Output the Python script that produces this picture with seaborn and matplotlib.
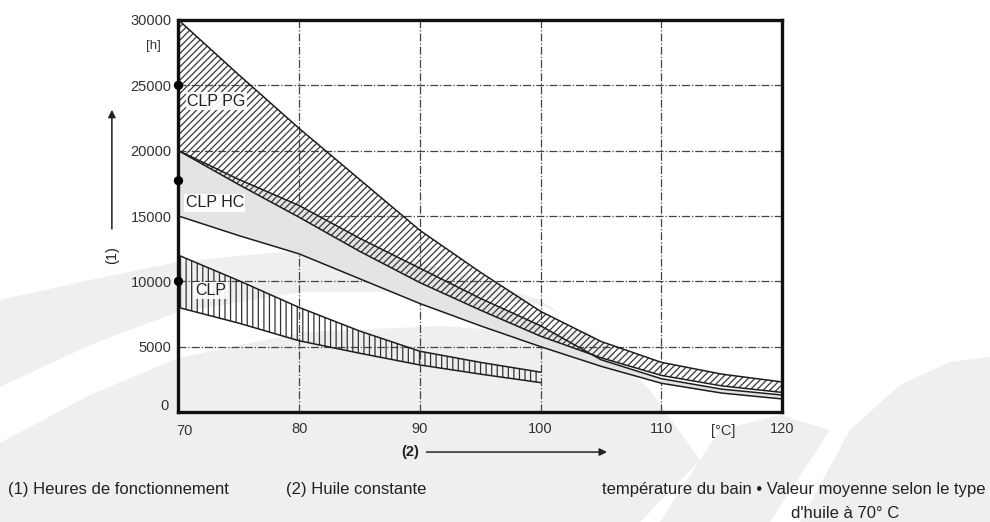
import numpy as np
import pandas as pd
import matplotlib
matplotlib.use("Agg")
import matplotlib.pyplot as plt
from matplotlib.patches import Polygon, FancyArrowPatch
import seaborn as sns

# temperature grid (°C) and the band edges (hours)
temps = [70, 75, 80, 85, 90, 95, 100, 105, 110, 115, 120]
pg_upper = [30000, 25800, 21700, 17800, 13900, 10700, 7700, 5400, 3800, 2900, 2300]
pg_lower = [20000, 17400, 14900, 12300, 9900, 7800, 5800, 4150, 2800, 2000, 1500]
hc_upper = [20000, 17800, 15800, 13300, 11000, 8700, 6600, 4000, 2550, 1750, 1300]
hc_lower = [15000, 13500, 12100, 10200, 8300, 6600, 5000, 3500, 2200, 1450, 1000]

clp_temps = [70, 75, 80, 85, 90, 95, 100]
clp_upper = [12000, 10050, 8000, 6200, 4650, 3800, 3050]
clp_lower = [8000, 6800, 5450, 4500, 3600, 2900, 2250]

# mean value per oil type at 70 °C
dot_temps = [70, 70, 70]
dot_hours = [25000, 17700, 10000]

x_ticks = [70, 80, 90, 100, 110, 120]
y_ticks = [0, 5000, 10000, 15000, 20000, 25000, 30000]

df = pd.DataFrame({"T": temps, "pg_up": pg_upper, "pg_lo": pg_lower,
                   "hc_up": hc_upper, "hc_lo": hc_lower})
clp = pd.DataFrame({"T": clp_temps, "up": clp_upper, "lo": clp_lower})

sns.set_theme(style="white")
plt.rcParams["font.family"] = ["Liberation Sans", "DejaVu Sans"]
plt.rcParams["hatch.linewidth"] = 0.9

fig = plt.figure(figsize=(9.9, 5.22), dpi=100)
fig.patch.set_facecolor("white")

# faint watermark swooshes behind the chart
def px(pts):
    return [(x / 990, 1 - y / 522) for x, y in pts]

wm = "#efefef"
fig.add_artist(Polygon(px([(0, 300), (90, 280), (178, 262), (300, 250), (380, 256), (450, 270),
                           (540, 300), (600, 340), (650, 390), (700, 460), (640, 522), (0, 522)]),
                       closed=True, transform=fig.transFigure, fc=wm, ec="none", zorder=-5))
fig.add_artist(Polygon(px([(0, 387), (90, 345), (178, 312), (303, 292), (442, 292), (540, 305), (600, 330),
                           (540, 333), (442, 326), (303, 332), (178, 358), (90, 395), (0, 443)]),
                       closed=True, transform=fig.transFigure, fc="white", ec="none", zorder=-4))
fig.add_artist(Polygon(px([(700, 460), (720, 430), (780, 415), (830, 430), (770, 522), (660, 522)]),
                       closed=True, transform=fig.transFigure, fc=wm, ec="none", zorder=-5))
fig.add_artist(Polygon(px([(800, 522), (850, 430), (900, 385), (950, 362), (990, 357), (990, 522)]),
                       closed=True, transform=fig.transFigure, fc=wm, ec="none", zorder=-5))

ax = fig.add_axes([0.1803, 0.2107, 0.6097, 0.751])
ax.set_facecolor("none")

# CLP HC grey band, CLP PG hatched band on top, CLP vertical hatch
ax.fill_between(df["T"], df["hc_lo"], df["hc_up"], color="#e4e4e4", lw=0, zorder=1)
ax.fill_between(df["T"], df["pg_lo"], df["pg_up"], facecolor="none", edgecolor="#383838",
                hatch="/////", lw=0, zorder=2)
ax.fill_between(clp["T"], clp["lo"], clp["up"], facecolor="none", edgecolor="#333333",
                hatch="|||", lw=0, zorder=2)

for col in ["pg_up", "pg_lo", "hc_up", "hc_lo"]:
    sns.lineplot(data=df, x="T", y=col, color="#1e1e1e", lw=1.1, ax=ax, zorder=3)
for col in ["up", "lo"]:
    sns.lineplot(data=clp, x="T", y=col, color="#1e1e1e", lw=1.1, ax=ax, zorder=3)

sns.scatterplot(x=dot_temps, y=dot_hours, color="black", s=45, ax=ax, zorder=6, clip_on=False,
                edgecolor="none")

tick_fs = 10.5
ax.set_xlim(70, 120)
ax.set_ylim(0, 30000)
ax.set_xticks(x_ticks)
ax.set_yticks(y_ticks)
ax.set_xticklabels([""] + [str(t) for t in x_ticks[1:]])
ax.set_yticklabels([""] + [str(v) for v in y_ticks[1:]])
ax.tick_params(length=0, labelsize=tick_fs, colors="#333333", pad=5)
ax.tick_params(axis="x", pad=7)
ax.set_xlabel("")
ax.set_ylabel("")
ax.grid(True, color="#444444", linestyle="-.", lw=0.9, zorder=0)
for s in ax.spines.values():
    s.set_visible(True)
    s.set_color("#111111")
    s.set_linewidth(2.4)

# extra labels on the axes
ax.text(69.2, 450, "0", ha="right", va="center", fontsize=tick_fs, color="#333333")
ax.text(70.5, -900, "70", ha="center", va="top", fontsize=tick_fs, color="#333333")
ax.text(115.1, -900, "[°C]", ha="center", va="top", fontsize=tick_fs, color="#333333")
ax.text(68.5, 28000, "[h]", ha="right", va="center", fontsize=9.5, color="#333333")

box = dict(facecolor="white", edgecolor="none", pad=1.0, alpha=0.9)
ax.text(70.7, 23800, "CLP PG", fontsize=11.5, color="#222222", va="center", bbox=box, zorder=5)
ax.text(70.6, 16000, "CLP HC", fontsize=11.5, color="#222222", va="center", bbox=box, zorder=5)
ax.text(71.4, 9300, "CLP", fontsize=11.5, color="#222222", va="center", bbox=box, zorder=5)

# axis arrows and legends
arrow = dict(arrowstyle="-|>", color="#222222", lw=1.1, mutation_scale=11)
fig.add_artist(FancyArrowPatch((0.113, 0.556), (0.113, 0.795), transform=fig.transFigure, **arrow))
fig.text(0.113, 0.511, "(1)", rotation=90, ha="center", va="center", fontsize=10.5, color="#222222")
fig.add_artist(FancyArrowPatch((0.428, 0.134), (0.616, 0.134), transform=fig.transFigure, **arrow))
fig.text(0.414, 0.134, "(2)", ha="center", va="center", fontsize=10.5, color="#222222",
         fontweight="bold")

note_fs = 12
fig.text(0.008, 0.063, "(1) Heures de fonctionnement", fontsize=note_fs, color="#222222", va="center")
fig.text(0.289, 0.063, "(2) Huile constante", fontsize=note_fs, color="#222222", va="center")
fig.text(0.995, 0.063, "température du bain • Valeur moyenne selon le type", fontsize=note_fs,
         color="#222222", va="center", ha="right")
fig.text(0.854, 0.016, "d'huile à 70° C", fontsize=note_fs, color="#222222", va="center", ha="center")

fig.savefig("out.png", dpi=100)
